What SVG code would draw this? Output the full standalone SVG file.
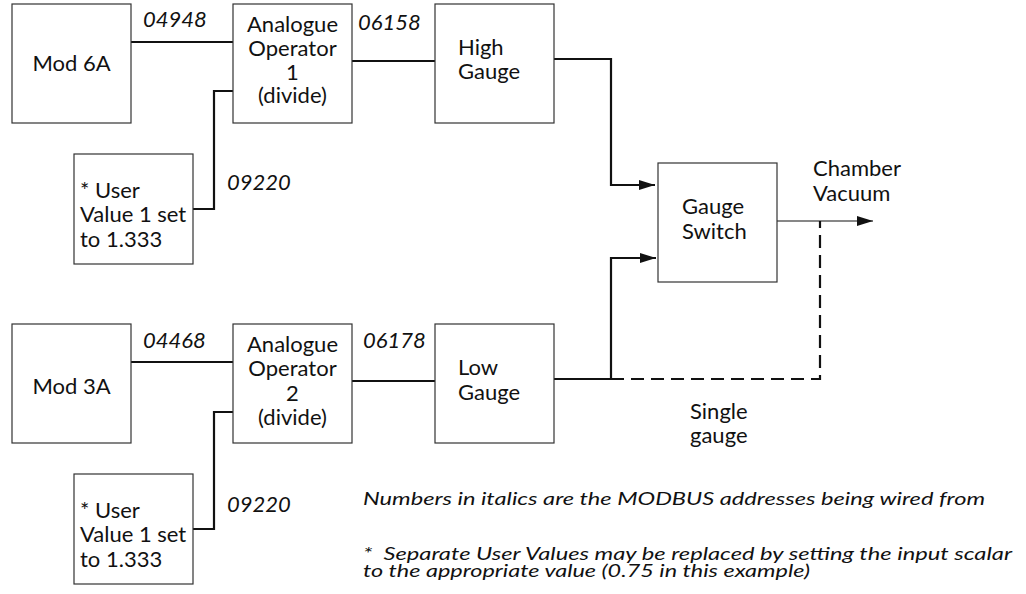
<svg xmlns="http://www.w3.org/2000/svg" width="1026" height="594" viewBox="0 0 1026 594">
<defs>
<style>
.box{fill:#fff;stroke:#333;stroke-width:1.2}
.t{font-family:Lato,"Open Sans","Liberation Sans",sans-serif;font-size:22px;fill:#111}
.n{font-size:18px}
.c{text-anchor:middle}
.i{font-style:italic}
.w{fill:none;stroke:#111;stroke-width:2.2}
.thin{fill:none;stroke:#111;stroke-width:1.2}
.dash{fill:none;stroke:#111;stroke-width:2.2;stroke-dasharray:13 7}
</style>
<marker id="ah" viewBox="0 0 16 10" refX="16" refY="5" markerWidth="16" markerHeight="10" markerUnits="userSpaceOnUse" orient="auto">
<path d="M0,0 L16,5 L0,10 Z" fill="#111"/>
</marker>
</defs>
<rect width="1026" height="594" fill="#fff"/>
<g id="connectors">
<polyline class="w" points="131,42 233,42"/>
<polyline class="w" points="193,209 214,209 214,91 233,91"/>
<polyline class="w" points="352,61 435,61"/>
<polyline class="w" points="554,59 611,59 611,185 655,185" marker-end="url(#ah)"/>
<polyline class="w" points="131,362 233,362"/>
<polyline class="w" points="193,529 214,529 214,412 233,412"/>
<polyline class="w" points="352,381 435,381"/>
<polyline class="w" points="554,379 611,379 611,258 656,258" marker-end="url(#ah)"/>
<polyline class="thin" points="777,221 873,221" marker-end="url(#ah)"/>
<polyline class="dash" points="611,379 820,379 820,221"/>
<text class="t i" x="143" y="27">04948</text>
<text class="t i" x="358" y="30">06158</text>
<text class="t i" x="227" y="190">09220</text>
<text class="t i" x="143" y="348">04468</text>
<text class="t i" x="363" y="348">06178</text>
<text class="t i" x="227" y="512">09220</text>
<text class="t" x="813" y="176">Chamber</text>
<text class="t" x="813" y="201">Vacuum</text>
<text class="t" x="690" y="419">Single</text>
<text class="t" x="690" y="443">gauge</text>
</g>
<g id="mod6a">
<rect class="box" x="12" y="4" width="119" height="119"/>
<text class="t c" x="71.5" y="71">Mod 6A</text>
</g>
<g id="ao1">
<rect class="box" x="233" y="4" width="119" height="119"/>
<text class="t c" x="292.5" y="32">Analogue</text>
<text class="t c" x="292.5" y="56">Operator</text>
<text class="t c" x="292.5" y="80">1</text>
<text class="t c" x="292.5" y="103">(divide)</text>
</g>
<g id="uv1">
<rect class="box" x="74" y="154" width="119" height="110"/>
<text class="t" x="80" y="198">* User</text>
<text class="t" x="80" y="222">Value 1 set</text>
<text class="t" x="80" y="247">to 1.333</text>
</g>
<g id="high">
<rect class="box" x="435" y="4" width="119" height="119"/>
<text class="t" x="458" y="55">High</text>
<text class="t" x="458" y="79">Gauge</text>
</g>
<g id="switch">
<rect class="box" x="658" y="163" width="119" height="119"/>
<text class="t" x="682" y="214">Gauge</text>
<text class="t" x="682" y="239">Switch</text>
</g>
<g id="mod3a">
<rect class="box" x="12" y="324" width="119" height="119"/>
<text class="t c" x="71.5" y="394">Mod 3A</text>
</g>
<g id="ao2">
<rect class="box" x="233" y="324" width="119" height="119"/>
<text class="t c" x="292.5" y="352">Analogue</text>
<text class="t c" x="292.5" y="376">Operator</text>
<text class="t c" x="292.5" y="401">2</text>
<text class="t c" x="292.5" y="425">(divide)</text>
</g>
<g id="uv2">
<rect class="box" x="74" y="474" width="119" height="110"/>
<text class="t" x="80" y="518">* User</text>
<text class="t" x="80" y="542">Value 1 set</text>
<text class="t" x="80" y="567">to 1.333</text>
</g>
<g id="low">
<rect class="box" x="435" y="324" width="119" height="119"/>
<text class="t" x="458" y="375">Low</text>
<text class="t" x="458" y="400">Gauge</text>
</g>
<g id="notes">
<text class="t i n" x="363" y="505" textLength="622" lengthAdjust="spacingAndGlyphs">Numbers in italics are the MODBUS addresses being wired from</text>
<text class="t i n" x="363" y="560" textLength="649" lengthAdjust="spacingAndGlyphs">*&#160; Separate User Values may be replaced by setting the input scalar</text>
<text class="t i n" x="363" y="577" textLength="447" lengthAdjust="spacingAndGlyphs">to the appropriate value (0.75 in this example)</text>
</g>
</svg>
